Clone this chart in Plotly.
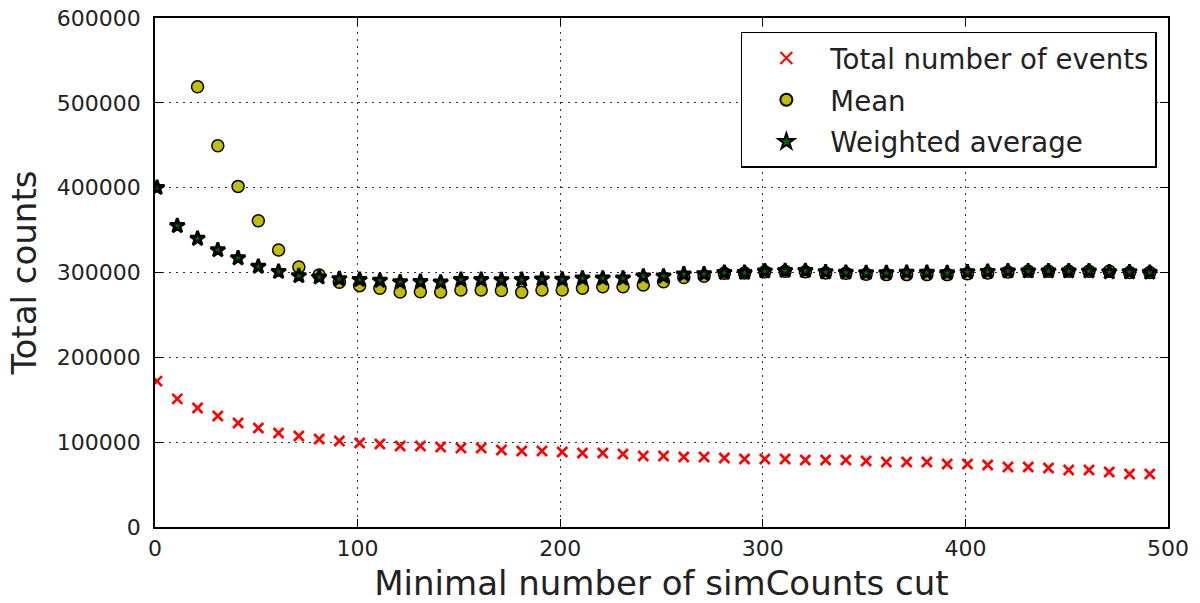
import plotly.graph_objects as go

cut_x = [1, 11, 21, 31, 41, 51, 61, 71, 81, 91, 101, 111, 121, 131, 141, 151, 161, 171, 181, 191,
         201, 211, 221, 231, 241, 251, 261, 271, 281, 291, 301, 311, 321, 331, 341, 351, 361, 371, 381, 391,
         401, 411, 421, 431, 441, 451, 461, 471, 481, 491]

total_events = [172000, 151000, 140300, 130800, 122600, 116700, 110800, 107300, 103700, 101400,
                99000, 97800, 95500, 95500, 94300, 93100, 93100, 90800, 89600, 89600,
                88400, 87200, 87200, 86000, 83700, 83700, 82500, 82500, 81300, 80200,
                80200, 80200, 79000, 79000, 79000, 77800, 76600, 76600, 76600, 74300,
                74300, 73100, 70700, 70700, 69500, 67200, 67200, 64800, 62500, 62500]

mean_x = cut_x[2:]
mean_vals = [519000, 449500, 401500, 361000, 326500, 306500, 297000, 288500, 284500, 281500,
             277000, 277300, 277000, 279400, 279400, 278800, 276800, 279400, 279400, 281400,
             283300, 283300, 285300, 289000, 294000, 295500, 299000, 299500, 301000, 301500,
             301000, 299500, 299000, 298000, 297500, 297500, 297500, 297500, 298500,
             299500, 300500, 301500, 301500, 301500, 301500, 301500, 300000, 300000, 300000]

weighted_vals = [400000, 355000, 340000, 326500, 317000, 307000, 301000, 296000, 294500, 292500,
                 291500, 290500, 288800, 289200, 288500, 291500, 291500, 291200, 291500, 292000,
                 291800, 293100, 293100, 293100, 295500, 295500, 298000, 298200, 299800, 299800,
                 301500, 302000, 302000, 300500, 300000, 299500, 299500, 300000, 300000, 299500,
                 300500, 301000, 301500, 301500, 301500, 301500, 301500, 300500, 300500, 300000]

x_ticks = [0, 100, 200, 300, 400, 500]
y_ticks = [0, 100000, 200000, 300000, 400000, 500000, 600000]

FONT = "DejaVu Sans"
TXT = "#222222"

fig = go.Figure()
fig.add_trace(go.Scatter(
    x=cut_x, y=total_events, mode="markers", name="Total number of events",
    legendgroup="a",
    marker=dict(symbol="x-thin", size=10, color="red", line=dict(color="red", width=2.6)),
))
fig.add_trace(go.Scatter(
    x=mean_x, y=mean_vals, mode="markers", name="Mean",
    legendgroup="b",
    marker=dict(symbol="circle", size=12, color="#bfbf00", line=dict(color="black", width=1.5)),
))
fig.add_trace(go.Scatter(
    x=cut_x, y=weighted_vals, mode="markers", name="Weighted average",
    legendgroup="c",
    marker=dict(symbol="star", size=11, color="#006400", line=dict(color="black", width=2.7)),
))

axis_common = dict(
    showline=True, linecolor="black", linewidth=1.5, mirror="allticks",
    ticks="inside", ticklen=8, tickwidth=1.3, tickcolor="black",
    showgrid=True, gridcolor="#333333", gridwidth=1, griddash="2px,5px",
    zeroline=False, automargin=False,
    tickfont=dict(family=FONT, size=22, color=TXT),
)

fig.update_xaxes(
    range=[0, 500], tickvals=x_ticks, ticktext=[str(v) for v in x_ticks],
    ticklabelstandoff=1,
    title=dict(text="Minimal number of simCounts cut", font=dict(family=FONT, size=34, color=TXT), standoff=13),
    **axis_common,
)
fig.update_yaxes(
    range=[0, 600000], tickvals=y_ticks, ticktext=[str(v) for v in y_ticks],
    ticklabelstandoff=8,
    title=dict(text="Total counts", font=dict(family=FONT, size=34, color=TXT), standoff=10),
    **axis_common,
)

fig.update_layout(
    width=1200, height=603,
    margin=dict(l=155, r=32, t=18, b=76, autoexpand=False),
    paper_bgcolor="white", plot_bgcolor="white",
    showlegend=True,
    legend=dict(
        x=0.989, y=0.9725, xanchor="right", yanchor="top",
        bgcolor="white", bordercolor="black", borderwidth=1.5,
        font=dict(family=FONT, size=27.6, color=TXT),
        tracegroupgap=3, itemsizing="constant", itemwidth=78,
    ),
)

fig.write_html("out.html")
